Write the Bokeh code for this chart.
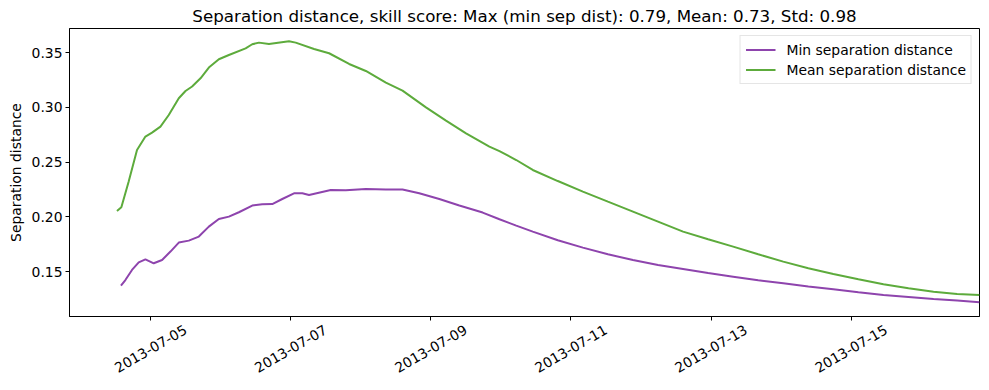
import math
from datetime import datetime
from bokeh.plotting import figure
from bokeh.models import (FixedTicker, DatetimeTickFormatter, NumeralTickFormatter,
                          Range1d, Legend, LegendItem, ColumnDataSource, DatetimeAxis)
from bokeh.embed import file_html
from bokeh.resources import INLINE

# ---- data ----
min_times = [
    "2013-07-04 13:48", "2013-07-04 15:19", "2013-07-04 17:35", "2013-07-04 19:53",
    "2013-07-04 22:11", "2013-07-05 01:02", "2013-07-05 03:53", "2013-07-05 06:46",
    "2013-07-05 09:37", "2013-07-05 13:03", "2013-07-05 16:29", "2013-07-05 19:55",
    "2013-07-05 23:21", "2013-07-06 02:47", "2013-07-06 06:13", "2013-07-06 10:47",
    "2013-07-06 14:13", "2013-07-06 17:39", "2013-07-06 21:05", "2013-07-07 01:06",
    "2013-07-07 03:57", "2013-07-07 06:15", "2013-07-07 13:42", "2013-07-07 18:51",
    "2013-07-08 01:43", "2013-07-08 08:35", "2013-07-08 14:17", "2013-07-08 20:01",
    "2013-07-09 02:53", "2013-07-09 09:45", "2013-07-09 17:45", "2013-07-09 23:30",
    "2013-07-10 05:15", "2013-07-10 10:55", "2013-07-10 19:30", "2013-07-11 04:05",
    "2013-07-11 12:40", "2013-07-11 21:15", "2013-07-12 05:50", "2013-07-12 14:25",
    "2013-07-12 23:00", "2013-07-13 07:35", "2013-07-13 16:10", "2013-07-14 00:45",
    "2013-07-14 09:20", "2013-07-14 17:55", "2013-07-15 02:30", "2013-07-15 11:05",
    "2013-07-15 19:40", "2013-07-16 04:15", "2013-07-16 12:20", "2013-07-16 20:00",
]
min_sep = [
    0.1372, 0.1423, 0.1515, 0.1585,
    0.1612, 0.1576, 0.1606, 0.1683,
    0.1765, 0.1783, 0.1820, 0.1911,
    0.1980, 0.2002, 0.2042, 0.2103,
    0.2115, 0.2117, 0.2163, 0.2215,
    0.2215, 0.2200, 0.2245, 0.2242,
    0.2254, 0.2249, 0.2249, 0.2215,
    0.2163, 0.2103, 0.2039, 0.1978,
    0.1920, 0.1865, 0.1786, 0.1719,
    0.1658, 0.1606, 0.1560, 0.1524,
    0.1487, 0.1454, 0.1420, 0.1393,
    0.1363, 0.1338, 0.1311, 0.1286,
    0.1268, 0.1250, 0.1235, 0.1220,
]

mean_times = [
    "2013-07-04 12:26", "2013-07-04 13:56", "2013-07-04 16:27", "2013-07-04 19:18",
    "2013-07-04 22:11", "2013-07-05 00:27", "2013-07-05 03:20", "2013-07-05 06:11",
    "2013-07-05 09:37", "2013-07-05 11:55", "2013-07-05 14:11", "2013-07-05 17:04",
    "2013-07-05 19:55", "2013-07-05 23:21", "2013-07-06 02:47", "2013-07-06 08:31",
    "2013-07-06 10:47", "2013-07-06 13:05", "2013-07-06 16:31", "2013-07-06 23:23",
    "2013-07-07 01:41", "2013-07-07 07:58", "2013-07-07 13:07", "2013-07-07 19:59",
    "2013-07-08 01:43", "2013-07-08 08:35", "2013-07-08 14:17", "2013-07-08 22:19",
    "2013-07-09 05:11", "2013-07-09 12:03", "2013-07-09 20:03", "2013-07-09 23:30",
    "2013-07-10 05:15", "2013-07-10 10:55", "2013-07-10 19:30", "2013-07-11 04:05",
    "2013-07-11 12:40", "2013-07-11 21:15", "2013-07-12 05:50", "2013-07-12 14:25",
    "2013-07-12 23:00", "2013-07-13 07:35", "2013-07-13 16:10", "2013-07-14 00:45",
    "2013-07-14 09:20", "2013-07-14 17:55", "2013-07-15 02:30", "2013-07-15 11:05",
    "2013-07-15 19:40", "2013-07-16 04:15", "2013-07-16 12:20", "2013-07-16 20:00",
]
mean_sep = [
    0.2053, 0.2087, 0.2322, 0.2611,
    0.2733, 0.2769, 0.2824, 0.2930,
    0.3083, 0.3149, 0.3190, 0.3265,
    0.3363, 0.3439, 0.3478, 0.3539,
    0.3576, 0.3591, 0.3579, 0.3603,
    0.3591, 0.3533, 0.3494, 0.3396,
    0.3332, 0.3226, 0.3153, 0.3000,
    0.2879, 0.2763, 0.2642, 0.2600,
    0.2519, 0.2428, 0.2327, 0.2231,
    0.2139, 0.2048, 0.1957, 0.1865,
    0.1795, 0.1728, 0.1658, 0.1591,
    0.1530, 0.1478, 0.1430, 0.1384,
    0.1348, 0.1317, 0.1296, 0.1286,
]

x_tick_labels = ["2013-07-05", "2013-07-07", "2013-07-09", "2013-07-11", "2013-07-13", "2013-07-15"]
y_ticks = [0.15, 0.20, 0.25, 0.30, 0.35]
x_limits = ["2013-07-03 20:10", "2013-07-16 20:00"]
y_limits = [0.109, 0.372]

title_text = "Separation distance, skill score: Max (min sep dist): 0.79, Mean: 0.73, Std: 0.98"
y_label = "Separation distance"
series_names = ["Min separation distance", "Mean separation distance"]
colors = ["#8e44ad", "#5dab3c"]

FONT = "DejaVu Sans"
FRAME_W, FRAME_H = 910, 288
TICK_FS = 13.9
LABEL_ROT = math.pi / 6


def to_dt(s):
    fmt = "%Y-%m-%d %H:%M" if " " in s else "%Y-%m-%d"
    return datetime.strptime(s, fmt)


def to_ms(s):
    return (to_dt(s) - datetime(1970, 1, 1)).total_seconds() * 1000.0


p = figure(
    x_axis_type="datetime",
    output_backend="svg",
    toolbar_location=None,
    frame_width=FRAME_W,
    frame_height=FRAME_H,
    min_border_left=69,
    min_border_right=1,
    min_border_top=22,
    min_border_bottom=4,
    x_range=Range1d(to_dt(x_limits[0]), to_dt(x_limits[1])),
    y_range=Range1d(y_limits[0], y_limits[1]),
    title=title_text,
)

p.title.text_font = FONT
p.title.text_font_size = "16.7px"
p.title.text_font_style = "normal"
p.title.align = "center"
p.title.text_color = "black"
p.title.standoff = 6

p.grid.visible = False
p.outline_line_color = "black"
p.outline_line_width = 1
p.outline_line_alpha = 1.0
p.background_fill_color = "white"
p.border_fill_color = "white"

src_min = ColumnDataSource(dict(x=[to_dt(t) for t in min_times], y=min_sep))
src_mean = ColumnDataSource(dict(x=[to_dt(t) for t in mean_times], y=mean_sep))
r_min = p.line("x", "y", source=src_min, line_color=colors[0], line_width=2)
r_mean = p.line("x", "y", source=src_mean, line_color=colors[1], line_width=2)

date_fmt = dict(milliseconds="%Y-%m-%d", seconds="%Y-%m-%d", minsec="%Y-%m-%d",
                minutes="%Y-%m-%d", hourmin="%Y-%m-%d", hours="%Y-%m-%d",
                days="%Y-%m-%d", months="%Y-%m-%d", years="%Y-%m-%d")

# main x axis: tick marks only (its labels are not drawn)
xa = p.xaxis[0]
xa.ticker = FixedTicker(ticks=[to_ms(t) for t in x_tick_labels], minor_ticks=[])
xa.formatter = DatetimeTickFormatter(**date_fmt)
xa.major_label_text_font_size = "1px"
xa.major_label_text_color = None
xa.major_label_standoff = 0

ya = p.yaxis[0]
ya.ticker = FixedTicker(ticks=y_ticks, minor_ticks=[])
ya.formatter = NumeralTickFormatter(format="0.00")
ya.axis_label = y_label
ya.major_label_text_font_size = f"{TICK_FS}px"
ya.major_label_text_color = "black"
ya.major_label_standoff = 3

for ax in (xa, ya):
    ax.major_label_text_font = FONT
    ax.axis_label_text_font = FONT
    ax.axis_label_text_font_size = f"{TICK_FS}px"
    ax.axis_label_text_font_style = "normal"
    ax.axis_label_text_color = "black"
    ax.axis_line_color = "black"
    ax.major_tick_line_color = "black"
    ax.major_tick_in = 0
    ax.major_tick_out = 4
    ax.minor_tick_line_color = None

# label axis: bokeh anchors rotated labels at their end, matplotlib centres them
# on the tick, so this axis carries the labels shifted by half a label width.
label_w_px = 5.81 * TICK_FS            # approx. width of "YYYY-MM-DD" in DejaVu Sans
ms_per_px = (to_ms(x_limits[1]) - to_ms(x_limits[0])) / FRAME_W
shift_ms = (label_w_px / 2) * math.cos(LABEL_ROT) * ms_per_px
xl = DatetimeAxis(
    ticker=FixedTicker(ticks=[to_ms(t) + shift_ms for t in x_tick_labels], minor_ticks=[]),
    formatter=DatetimeTickFormatter(**date_fmt),
    major_label_orientation=LABEL_ROT,
    major_label_standoff=2,
    major_label_text_font=FONT,
    major_label_text_font_size=f"{TICK_FS}px",
    major_label_text_color="black",
    axis_line_color=None,
    major_tick_line_color=None,
    minor_tick_line_color=None,
)
p.add_layout(xl, "below")

legend = Legend(
    items=[LegendItem(label=series_names[0], renderers=[r_min]),
           LegendItem(label=series_names[1], renderers=[r_mean])],
    location="top_right",
    margin=7,
    padding=5,
    spacing=3,
    label_height=17,
    glyph_height=17,
    glyph_width=30,
    label_standoff=11,
    label_text_font=FONT,
    label_text_font_size=f"{TICK_FS}px",
    label_text_color="black",
    border_line_color="#cccccc",
    border_line_width=1,
    background_fill_color="white",
    background_fill_alpha=0.8,
)
p.add_layout(legend, "center")

open("out.html", "w").write(file_html(p, INLINE))
